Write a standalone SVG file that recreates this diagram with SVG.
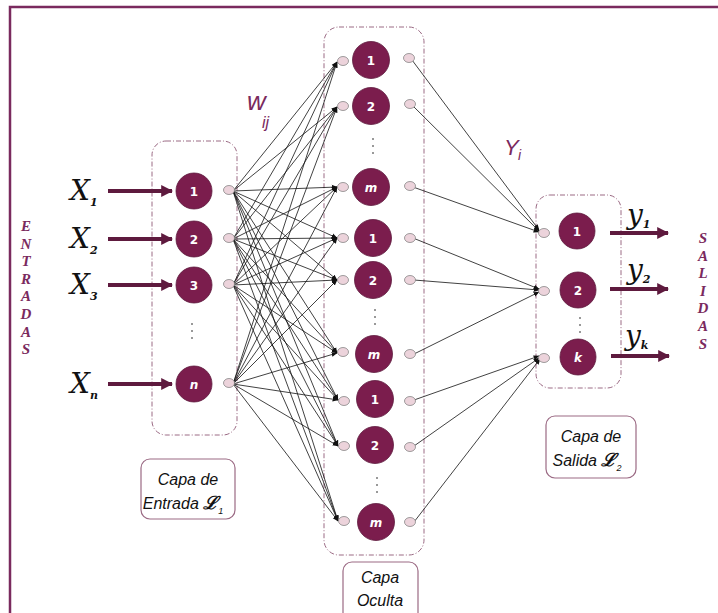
<svg xmlns="http://www.w3.org/2000/svg" width="718" height="613" viewBox="0 0 718 613">
<defs>
<marker id="ah" viewBox="0 0 10 10" refX="9" refY="5" markerWidth="6" markerHeight="6" markerUnits="userSpaceOnUse" orient="auto"><path d="M0,1 L10,5 L0,9 z" fill="#111"/></marker>
<marker id="big" viewBox="0 0 10 10" refX="9" refY="5" markerWidth="3" markerHeight="3" orient="auto"><path d="M0,0 L10,5 L0,10 z" fill="#5e1a3e"/></marker>
</defs>
<style>
.frame{fill:none;stroke:#7a2a5e;stroke-width:2.5}
.layer{fill:none;stroke:#9b6a84;stroke-width:1;stroke-dasharray:5 2 1 2}
.node{fill:#7b1d4d;stroke:#5e1a3e;stroke-width:0.8}
.nt{fill:#fff;font-family:"DejaVu Sans",sans-serif;font-weight:bold;font-size:12px;text-anchor:middle}
.ntI{fill:#fff;font-family:"DejaVu Sans",sans-serif;font-weight:bold;font-style:italic;font-size:12px;text-anchor:middle}
.port{fill:#ecd3db;stroke:#888;stroke-width:0.8}
.edge{stroke:#111;stroke-width:0.8;fill:none;marker-end:url(#ah)}
.io{stroke:#5e1a3e;stroke-width:4;fill:none;marker-end:url(#big)}
.var{font-family:"DejaVu Serif","Liberation Serif",serif;font-style:italic;font-size:28px;fill:#111}
.sub{font-family:"DejaVu Serif","Liberation Serif",serif;font-style:italic;font-weight:bold;font-size:11px;fill:#111}
.vert{font-family:"Liberation Serif",serif;font-style:italic;font-weight:bold;font-size:15px;fill:#7a2a5e;text-anchor:middle}
.lbl{fill:#fff;stroke:#9b6a84;stroke-width:1.2}
.lt{font-family:"Liberation Sans","DejaVu Sans",sans-serif;font-style:italic;font-size:16px;fill:#111;text-anchor:middle}
.ml{font-family:"Liberation Sans","DejaVu Sans",sans-serif;font-style:italic;fill:#7a2a5e}
.dot{fill:#777}
</style>
<rect class="frame" x="10" y="7" width="730" height="630"/>

<g id="layers">
<rect class="layer" x="152" y="141" width="85" height="294" rx="14"/>
<rect class="layer" x="324" y="27" width="100" height="528" rx="15"/>
<rect class="layer" x="536" y="195" width="85" height="193" rx="14"/>
</g>

<g id="connectors">
<g>
<line class="edge" x1="233" y1="191" x2="337" y2="62"/>
<line class="edge" x1="233" y1="191" x2="337" y2="107"/>
<line class="edge" x1="233" y1="191" x2="337" y2="187"/>
<line class="edge" x1="233" y1="191" x2="337" y2="238"/>
<line class="edge" x1="233" y1="191" x2="337" y2="280"/>
<line class="edge" x1="233" y1="191" x2="337" y2="353"/>
<line class="edge" x1="233" y1="191" x2="338" y2="400"/>
<line class="edge" x1="233" y1="191" x2="338" y2="446"/>
<line class="edge" x1="233" y1="191" x2="338" y2="521"/>
<line class="edge" x1="233" y1="239" x2="337" y2="62"/>
<line class="edge" x1="233" y1="239" x2="337" y2="107"/>
<line class="edge" x1="233" y1="239" x2="337" y2="187"/>
<line class="edge" x1="233" y1="239" x2="337" y2="238"/>
<line class="edge" x1="233" y1="239" x2="337" y2="280"/>
<line class="edge" x1="233" y1="239" x2="337" y2="353"/>
<line class="edge" x1="233" y1="239" x2="338" y2="400"/>
<line class="edge" x1="233" y1="239" x2="338" y2="446"/>
<line class="edge" x1="233" y1="239" x2="338" y2="521"/>
<line class="edge" x1="233" y1="285" x2="337" y2="62"/>
<line class="edge" x1="233" y1="285" x2="337" y2="107"/>
<line class="edge" x1="233" y1="285" x2="337" y2="187"/>
<line class="edge" x1="233" y1="285" x2="337" y2="238"/>
<line class="edge" x1="233" y1="285" x2="337" y2="280"/>
<line class="edge" x1="233" y1="285" x2="337" y2="353"/>
<line class="edge" x1="233" y1="285" x2="338" y2="400"/>
<line class="edge" x1="233" y1="285" x2="338" y2="446"/>
<line class="edge" x1="233" y1="285" x2="338" y2="521"/>
<line class="edge" x1="233" y1="384" x2="337" y2="62"/>
<line class="edge" x1="233" y1="384" x2="337" y2="107"/>
<line class="edge" x1="233" y1="384" x2="337" y2="187"/>
<line class="edge" x1="233" y1="384" x2="337" y2="238"/>
<line class="edge" x1="233" y1="384" x2="337" y2="280"/>
<line class="edge" x1="233" y1="384" x2="337" y2="353"/>
<line class="edge" x1="233" y1="384" x2="338" y2="400"/>
<line class="edge" x1="233" y1="384" x2="338" y2="446"/>
<line class="edge" x1="233" y1="384" x2="338" y2="521"/>
</g>
<g>
<line class="edge" x1="412" y1="60" x2="539" y2="230"/>
<line class="edge" x1="413" y1="106" x2="539" y2="231"/>
<line class="edge" x1="413" y1="187" x2="539" y2="232"/>
<line class="edge" x1="413" y1="238" x2="539" y2="289"/>
<line class="edge" x1="414" y1="280" x2="539" y2="290"/>
<line class="edge" x1="414" y1="354" x2="539" y2="292"/>
<line class="edge" x1="414" y1="400" x2="539" y2="356"/>
<line class="edge" x1="414" y1="446" x2="539" y2="358"/>
<line class="edge" x1="414" y1="522" x2="540" y2="359"/>
</g>
<g>
<line class="io" x1="108" y1="191" x2="172" y2="191"/>
<line class="io" x1="108" y1="239" x2="172" y2="239"/>
<line class="io" x1="108" y1="285" x2="172" y2="285"/>
<line class="io" x1="108" y1="384" x2="172" y2="384"/>
<line class="io" x1="610" y1="233" x2="668" y2="233"/>
<line class="io" x1="610" y1="289" x2="668" y2="289"/>
<line class="io" x1="611" y1="356" x2="669" y2="356"/>
</g>
</g>

<g id="in1"><circle class="node" cx="194" cy="191" r="18"/><text class="nt" x="194" y="195.5">1</text><ellipse class="port" cx="229" cy="190" rx="5.5" ry="4.5"/></g>
<g id="in2"><circle class="node" cx="194" cy="239" r="18"/><text class="nt" x="194" y="243.5">2</text><ellipse class="port" cx="229" cy="238" rx="5.5" ry="4.5"/></g>
<g id="in3"><circle class="node" cx="194" cy="285" r="18"/><text class="nt" x="194" y="289.5">3</text><ellipse class="port" cx="229" cy="284" rx="5.5" ry="4.5"/></g>
<g id="in-dots"><circle class="dot" cx="192" cy="324" r="1"/><circle class="dot" cx="192" cy="331" r="1"/><circle class="dot" cx="192" cy="338" r="1"/></g>
<g id="inn"><circle class="node" cx="194" cy="384" r="18"/><text class="ntI" x="194" y="388.5">n</text><ellipse class="port" cx="229" cy="383" rx="5.5" ry="4.5"/></g>

<g id="h1"><ellipse class="port" cx="343" cy="61" rx="5.5" ry="4.5"/><circle class="node" cx="371" cy="60" r="18.5"/><text class="nt" x="371" y="64.5">1</text><ellipse class="port" cx="409" cy="58" rx="5.5" ry="4.5"/></g>
<g id="h2"><ellipse class="port" cx="343" cy="106" rx="5.5" ry="4.5"/><circle class="node" cx="371" cy="106" r="18.5"/><text class="nt" x="371" y="110.5">2</text><ellipse class="port" cx="410" cy="104" rx="5.5" ry="4.5"/></g>
<g id="h-dots1"><circle class="dot" cx="373" cy="139" r="1"/><circle class="dot" cx="373" cy="146" r="1"/><circle class="dot" cx="373" cy="153" r="1"/></g>
<g id="hm"><ellipse class="port" cx="343" cy="187" rx="5.5" ry="4.5"/><circle class="node" cx="371" cy="187" r="18.5"/><text class="ntI" x="371" y="191.5">m</text><ellipse class="port" cx="410" cy="186" rx="5.5" ry="4.5"/></g>
<g id="h1b"><ellipse class="port" cx="343" cy="238" rx="5.5" ry="4.5"/><circle class="node" cx="373" cy="238" r="18.5"/><text class="nt" x="373" y="242.5">1</text><ellipse class="port" cx="410" cy="238" rx="5.5" ry="4.5"/></g>
<g id="h2b"><ellipse class="port" cx="343" cy="280" rx="5.5" ry="4.5"/><circle class="node" cx="373" cy="280" r="18.5"/><text class="nt" x="373" y="284.5">2</text><ellipse class="port" cx="410" cy="280" rx="5.5" ry="4.5"/></g>
<g id="h-dots2"><circle class="dot" cx="375" cy="310" r="1"/><circle class="dot" cx="375" cy="317" r="1"/><circle class="dot" cx="375" cy="324" r="1"/></g>
<g id="hmb"><ellipse class="port" cx="343" cy="352" rx="5.5" ry="4.5"/><circle class="node" cx="374" cy="354" r="18.5"/><text class="ntI" x="374" y="358.5">m</text><ellipse class="port" cx="410" cy="354" rx="5.5" ry="4.5"/></g>
<g id="h1c"><ellipse class="port" cx="344" cy="401" rx="5.5" ry="4.5"/><circle class="node" cx="375" cy="399" r="18.5"/><text class="nt" x="375" y="403.5">1</text><ellipse class="port" cx="410" cy="401" rx="5.5" ry="4.5"/></g>
<g id="h2c"><ellipse class="port" cx="344" cy="446" rx="5.5" ry="4.5"/><circle class="node" cx="375" cy="445" r="18.5"/><text class="nt" x="375" y="449.5">2</text><ellipse class="port" cx="410" cy="447" rx="5.5" ry="4.5"/></g>
<g id="h-dots3"><circle class="dot" cx="377" cy="478" r="1"/><circle class="dot" cx="377" cy="485" r="1"/><circle class="dot" cx="377" cy="492" r="1"/></g>
<g id="hmc"><ellipse class="port" cx="344" cy="521" rx="5.5" ry="4.5"/><circle class="node" cx="376" cy="522" r="18.5"/><text class="ntI" x="376" y="526.5">m</text><ellipse class="port" cx="410" cy="522" rx="5.5" ry="4.5"/></g>

<g id="o1"><ellipse class="port" cx="544" cy="233" rx="5.5" ry="4.5"/><circle class="node" cx="577" cy="231" r="18"/><text class="nt" x="577" y="235.5">1</text></g>
<g id="o2"><ellipse class="port" cx="544" cy="291" rx="5.5" ry="4.5"/><circle class="node" cx="578" cy="290" r="18"/><text class="nt" x="578" y="294.5">2</text></g>
<g id="o-dots"><circle class="dot" cx="580" cy="318" r="1"/><circle class="dot" cx="580" cy="325" r="1"/><circle class="dot" cx="580" cy="332" r="1"/></g>
<g id="ok"><ellipse class="port" cx="544" cy="358" rx="5.5" ry="4.5"/><circle class="node" cx="578" cy="357" r="18"/><text class="ntI" x="578" y="361.5">k</text></g>

<g id="xlabels">
<text class="var" x="70" y="200">X<tspan class="sub" dy="6">1</tspan></text>
<text class="var" x="70" y="248">X<tspan class="sub" dy="6">2</tspan></text>
<text class="var" x="70" y="294">X<tspan class="sub" dy="6">3</tspan></text>
<text class="var" x="70" y="393">X<tspan class="sub" dy="6">n</tspan></text>
</g>
<g id="ylabels">
<text class="var" x="627" y="224" font-size="26">y<tspan class="sub" dy="4">1</tspan></text>
<text class="var" x="627" y="279" font-size="26">y<tspan class="sub" dy="4">2</tspan></text>
<text class="var" x="625" y="345" font-size="26">y<tspan class="sub" dy="4">k</tspan></text>
</g>
<g id="wij"><text class="ml" x="247" y="110" font-size="26">w</text><text class="ml" x="262" y="128" font-size="16">ij</text></g>
<g id="Yi"><text class="ml" x="504" y="155" font-size="22">Y</text><text class="ml" x="518" y="160" font-size="14">i</text></g>

<g id="entradas">
<text class="vert"><tspan x="26" y="231">E</tspan><tspan x="26" dy="17.6">N</tspan><tspan x="26" dy="17.6">T</tspan><tspan x="26" dy="17.6">R</tspan><tspan x="26" dy="17.6">A</tspan><tspan x="26" dy="17.6">D</tspan><tspan x="26" dy="17.6">A</tspan><tspan x="26" dy="17.6">S</tspan></text>
</g>
<g id="salidas">
<text class="vert"><tspan x="703" y="243">S</tspan><tspan x="703" dy="17.6">A</tspan><tspan x="703" dy="17.6">L</tspan><tspan x="703" dy="17.6">I</tspan><tspan x="703" dy="17.6">D</tspan><tspan x="703" dy="17.6">A</tspan><tspan x="703" dy="17.6">S</tspan></text>
</g>

<g id="lbl-entrada"><rect class="lbl" x="141" y="459" width="94" height="60" rx="9"/><text class="lt" x="188" y="485">Capa de</text><text class="lt" x="183" y="509">Entrada <tspan font-family="DejaVu Serif,serif" font-weight="bold" font-size="18">ℒ</tspan><tspan font-size="9" dy="5">1</tspan></text></g>
<g id="lbl-oculta"><rect class="lbl" x="343" y="562" width="75" height="60" rx="9"/><text class="lt" x="380" y="583">Capa</text><text class="lt" x="380" y="606">Oculta</text></g>
<g id="lbl-salida"><rect class="lbl" x="546" y="416" width="90" height="62" rx="9"/><text class="lt" x="591" y="442">Capa de</text><text class="lt" x="587" y="466">Salida <tspan font-family="DejaVu Serif,serif" font-weight="bold" font-size="18">ℒ</tspan><tspan font-size="9" dy="5">2</tspan></text></g>
</svg>
